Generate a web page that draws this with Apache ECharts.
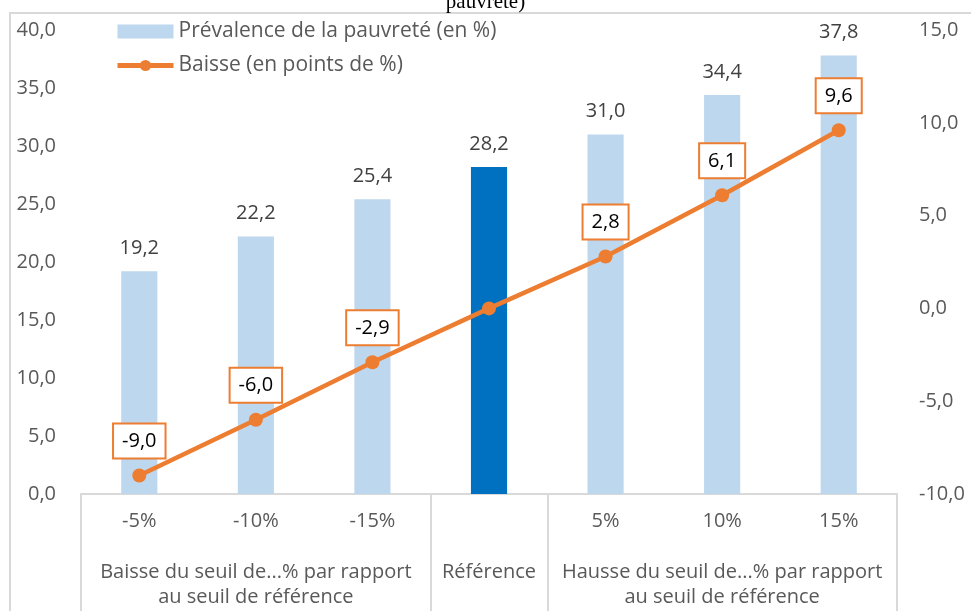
<!DOCTYPE html>
<html>
<head>
<meta charset="utf-8">
<script src="https://cdn.jsdelivr.net/npm/echarts@6/dist/echarts.min.js"></script>
<style>
  html, body { margin: 0; padding: 0; background: #fff; }
  #chart { width: 971px; height: 611px; }
</style>
</head>
<body>
<div id="chart"></div>
<script>
// categories and group headers
const categories = ['-5%', '-10%', '-15%', '', '5%', '10%', '15%'];
const groupLabels = [
  'Baisse du seuil de...% par rapport\nau seuil de référence',
  'Référence',
  'Hausse du seuil de...% par rapport\nau seuil de référence'
];
const groupBounds = [0, 3, 4, 7];
const refIndex = 3;

// series values
const prevalence = [19.2, 22.2, 25.4, 28.2, 31.0, 34.4, 37.8];
const baisse = [-9.0, -6.0, -2.9, 0.0, 2.8, 6.1, 9.6];

const FONT = 'Open Sans';
const FS = 20;
const GREY = '#595959';
const LIGHT = '#BDD7EE';
const DARK = '#0070C0';
const ORANGE = '#ED7D31';
const fmt = v => Number(v).toFixed(1).replace('.', ',');

const groupCenters = groupBounds.slice(0, -1).map((b, i) => (b + groupBounds[i + 1]) / 2);

let chartDom = document.getElementById('chart');
let myChart = echarts.init(chartDom);

let option = {
  animation: false,
  textStyle: { fontFamily: FONT, color: GREY },
  title: {
    text: 'pauvreté)',
    left: 'center',
    top: -13,
    textStyle: { fontFamily: 'Liberation Serif', fontSize: 21, fontWeight: 'normal', color: '#000' }
  },
  graphic: [{
    type: 'rect',
    shape: { x: 10, y: 13, width: 1000, height: 700 },
    style: { fill: 'none', stroke: '#d9d9d9', lineWidth: 2 },
    silent: true
  }],
  legend: {
    orient: 'vertical',
    left: 110,
    top: 16,
    itemWidth: 56,
    itemHeight: 14,
    itemGap: 13,
    textStyle: { fontFamily: FONT, fontSize: 21, color: GREY },
    data: [
      { name: 'Prévalence de la pauvreté (en %)', icon: 'rect', itemStyle: { color: LIGHT } },
      { name: 'Baisse (en points de %)', lineStyle: { color: ORANGE, width: 5 }, itemStyle: { color: ORANGE } }
    ]
  },
  grid: { left: 81, right: 74, top: 30, bottom: 117 },
  xAxis: [
    {
      type: 'category',
      data: categories,
      axisTick: { show: false },
      axisLine: { onZero: false, lineStyle: { color: '#d9d9d9', width: 2 } },
      axisLabel: { fontFamily: FONT, fontSize: FS, color: GREY, margin: 17, interval: 0 }
    },
    {
      type: 'value',
      min: groupBounds[0],
      max: groupBounds[groupBounds.length - 1],
      position: 'bottom',
      splitLine: { show: false },
      axisLine: { show: false, onZero: false },
      axisTick: {
        show: true,
        inside: false,
        customValues: groupBounds,
        length: 125,
        lineStyle: { color: '#d9d9d9', width: 2 }
      },
      axisLabel: {
        customValues: groupCenters,
        formatter: v => groupLabels[groupCenters.indexOf(v)],
        fontFamily: FONT,
        fontSize: FS,
        color: GREY,
        margin: 66,
        verticalAlign: 'top',
        lineHeight: 25,
        align: 'center'
      }
    }
  ],
  yAxis: [
    {
      type: 'value',
      min: 0,
      max: 40,
      interval: 5,
      splitLine: { show: false },
      axisLine: { show: false },
      axisTick: { show: false },
      axisLabel: { formatter: fmt, fontFamily: FONT, fontSize: FS, color: GREY, margin: 25 }
    },
    {
      type: 'value',
      min: -10,
      max: 15,
      interval: 5,
      position: 'right',
      splitLine: { show: false },
      axisLine: { show: false },
      axisTick: { show: false },
      axisLabel: { formatter: fmt, fontFamily: FONT, fontSize: FS, color: GREY, margin: 22, align: 'left' }
    }
  ],
  series: [
    {
      name: 'Prévalence de la pauvreté (en %)',
      type: 'bar',
      xAxisIndex: 0,
      yAxisIndex: 0,
      barWidth: '31%',
      data: prevalence,
      itemStyle: {
        color: p => (p.dataIndex === refIndex ? DARK : LIGHT)
      },
      label: {
        show: true,
        position: 'top',
        distance: 13,
        formatter: p => fmt(p.value),
        fontFamily: FONT,
        fontSize: FS,
        color: '#404040'
      }
    },
    {
      name: 'Baisse (en points de %)',
      type: 'line',
      xAxisIndex: 0,
      yAxisIndex: 1,
      symbol: 'circle',
      symbolSize: 14,
      lineStyle: { color: ORANGE, width: 4.5 },
      itemStyle: { color: ORANGE },
      data: baisse.map((v, i) => (i === refIndex ? { value: v, label: { show: false } } : v)),
      label: {
        show: true,
        position: 'top',
        distance: 11,
        formatter: p => fmt(p.value),
        fontFamily: FONT,
        fontSize: FS,
        color: '#000',
        backgroundColor: '#fff',
        borderColor: ORANGE,
        borderWidth: 2,
        padding: [7, 8, 6, 8]
      }
    }
  ]
};

option && myChart.setOption(option);
</script>
</body>
</html>
